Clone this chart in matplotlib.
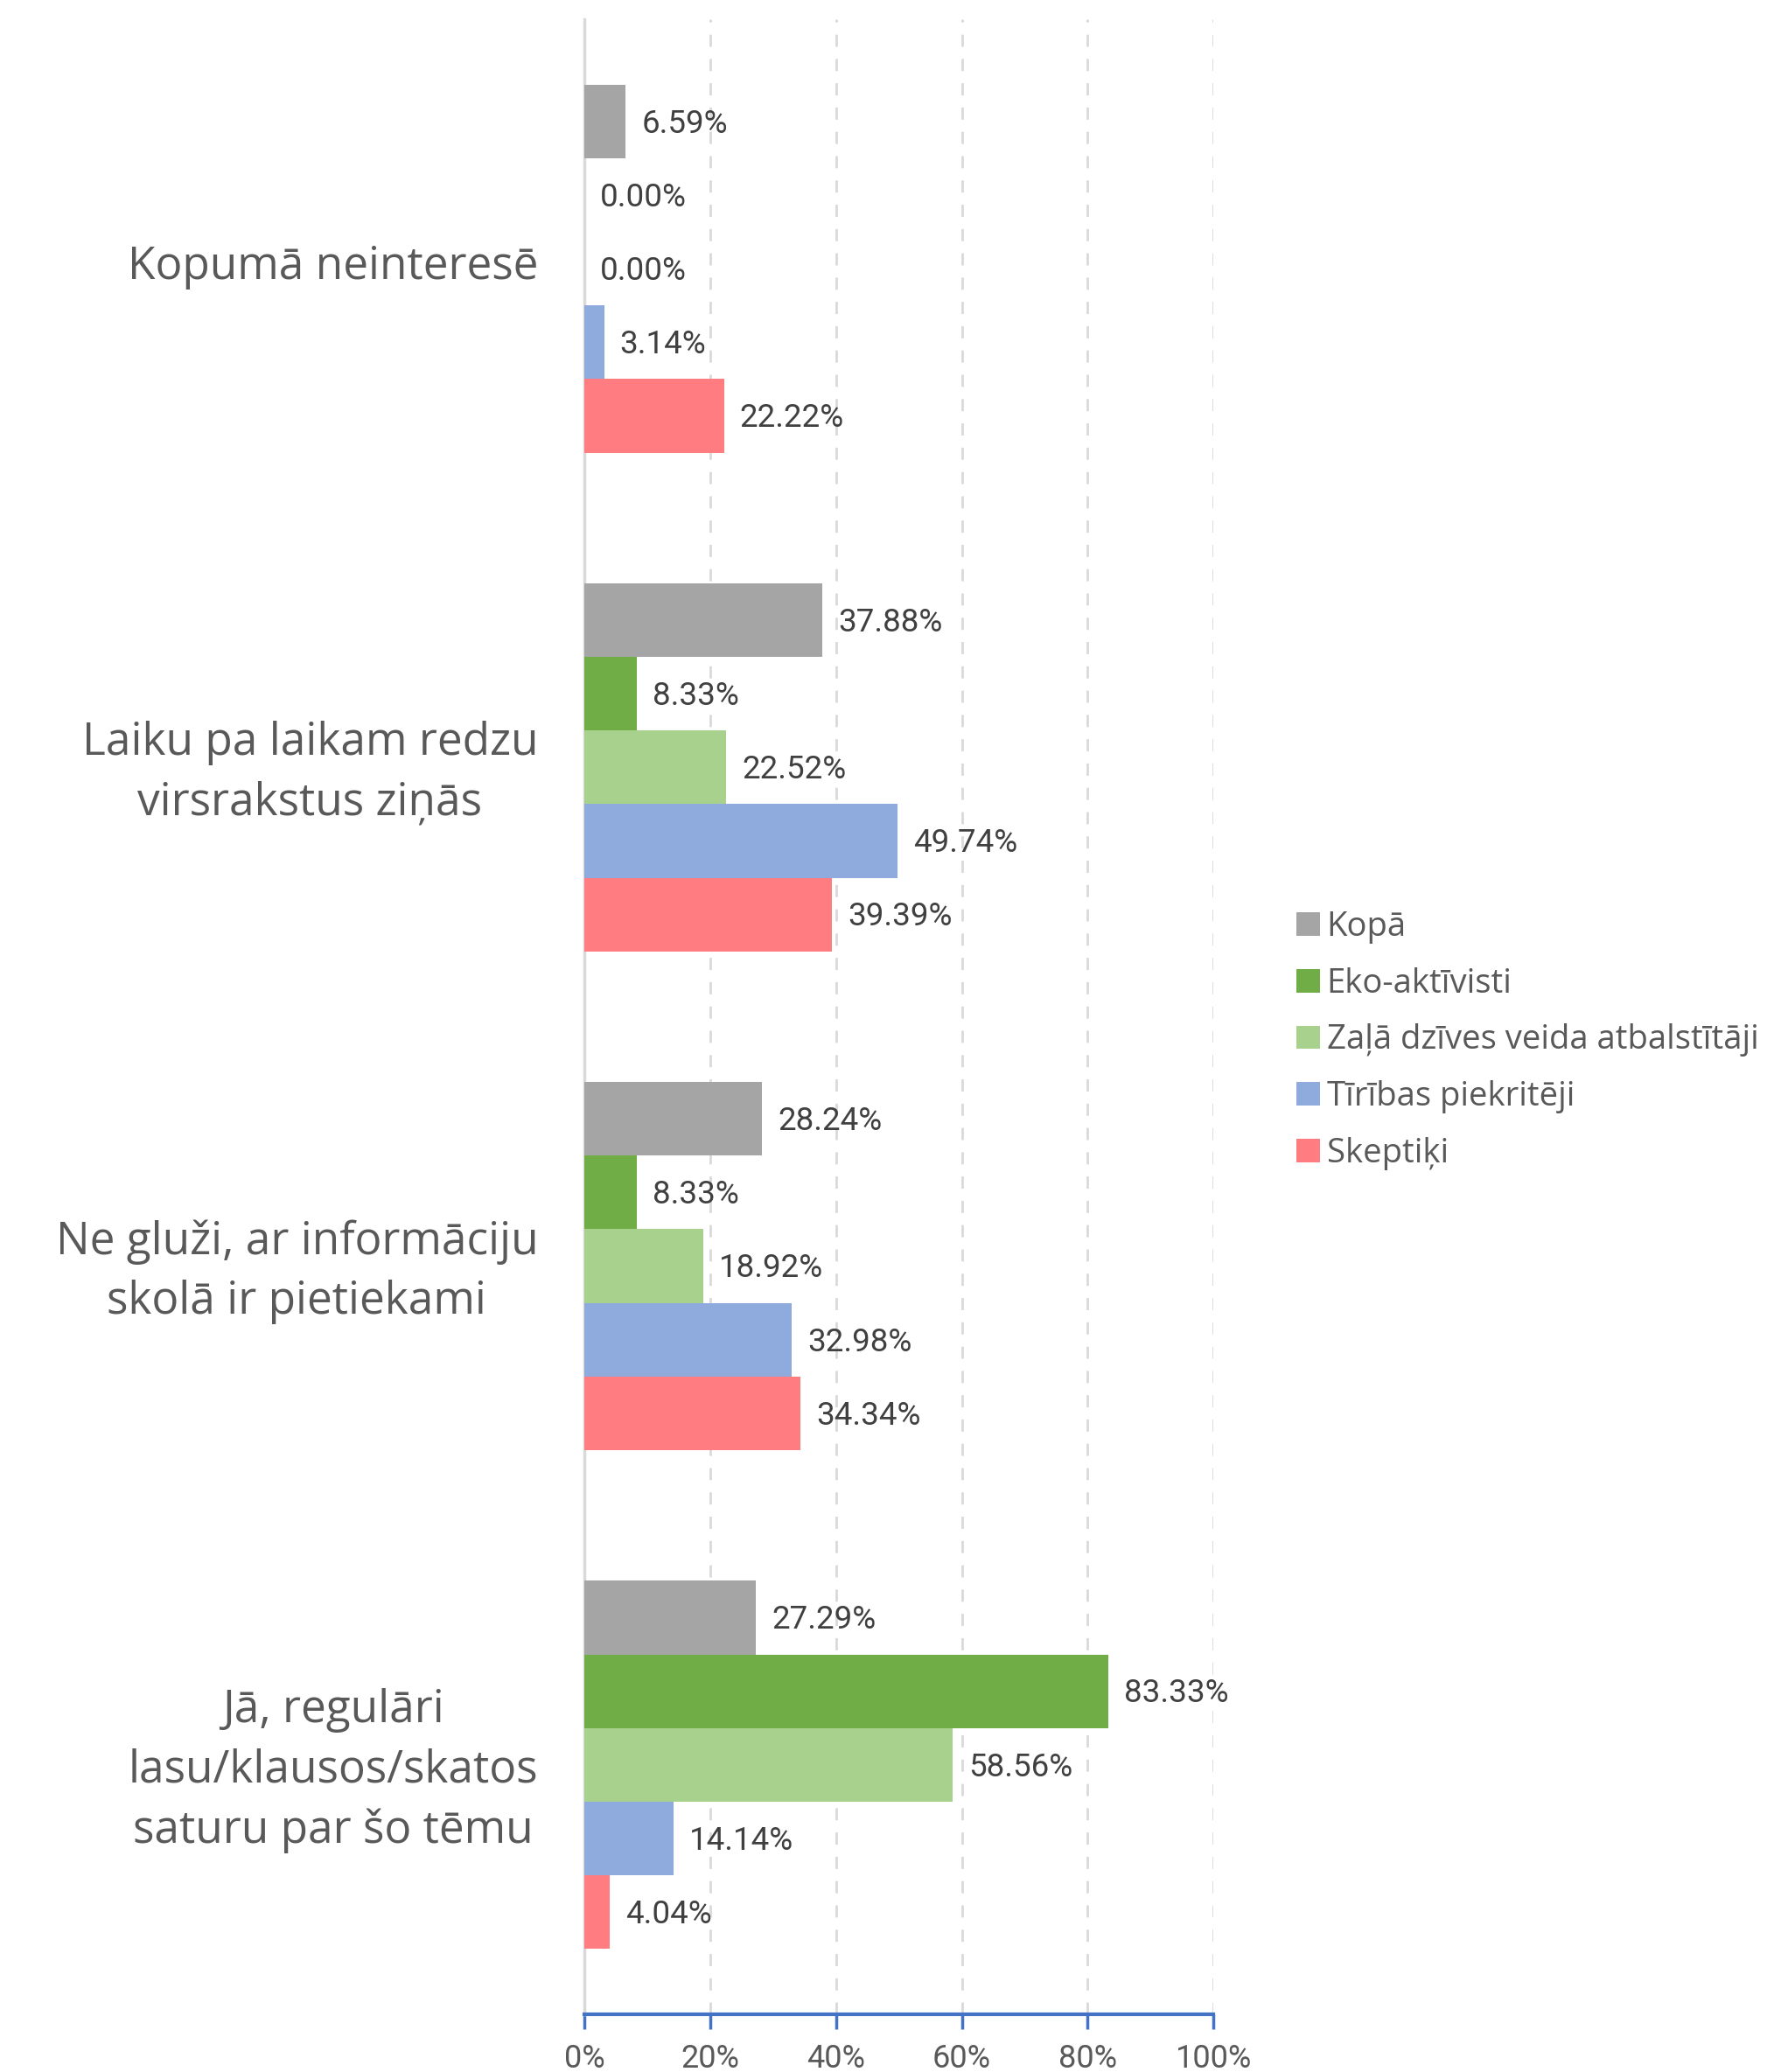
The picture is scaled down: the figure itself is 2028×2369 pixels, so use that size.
from matplotlib import pyplot as plt
import matplotlib.transforms as mtransforms
import numpy as np

categories = ['Jā, regulāri\nlasu/klausos/skatos\nsaturu par šo tēmu',
              'Ne gluži, ar informāciju\nskolā ir pietiekami',
              'Laiku pa laikam redzu\nvirsrakstus ziņās',
              'Kopumā neinteresē']

series = ['Kopā', 'Eko-aktīvisti', 'Zaļā dzīves veida atbalstītāji',
          'Tīrības piekritēji', 'Skeptiķi']

kopa = [27.29, 28.24, 37.88, 6.59]
eko = [83.33, 8.33, 8.33, 0.00]
zala = [58.56, 18.92, 22.52, 0.00]
tiribas = [14.14, 32.98, 49.74, 3.14]
skeptiki = [4.04, 34.34, 39.39, 22.22]

colors = ['#A5A5A5', '#70AD47', '#A9D18E', '#8FAADC', '#FF7C80']

plt.rcParams['font.family'] = ['Open Sans', 'DejaVu Sans']

fig = plt.figure(figsize=(20.28, 23.69), dpi=100)
ax = fig.add_axes([0.3294, 0.0279, 0.3546, 0.9628])

y = np.arange(len(categories))
h = 0.1476
handles = []
for i, (name, vals, c) in enumerate(zip(series, [kopa, eko, zala, tiribas, skeptiki], colors)):
    pos = y + (2 - i) * h
    bars = ax.barh(pos, vals, height=h, color=c, label=name, zorder=3)
    handles.append(bars)
    for p, v in zip(pos, vals):
        ax.annotate(f'{v:.2f}%', (v, p), xytext=(13, -2), textcoords='offset points',
                    va='center', ha='left', fontsize=26.5, color='#404040',
                    family=['Roboto', 'DejaVu Sans'])

ax.set_xlim(0, 100)
ax.set_ylim(-0.5, 3.5)
ax.set_xticks(range(0, 101, 20))
ax.set_xticklabels([f'{t}%' for t in range(0, 101, 20)], fontsize=26, color='#595959',
                   family=['Roboto', 'DejaVu Sans'])
ax.set_yticks(y)
ax.set_yticklabels(categories, fontsize=37, color='#595959', multialignment='center',
                   linespacing=1.45)
ax.tick_params(axis='y', length=0, pad=38)
ax.tick_params(axis='x', length=12, width=2.5, color='#4472C4', direction='out', pad=12)

# nudge category labels up a little
shift = mtransforms.ScaledTranslation(0, 8 / 100, fig.dpi_scale_trans)
for lbl in ax.get_yticklabels():
    lbl.set_transform(lbl.get_transform() + shift)

ax.grid(axis='x', color='#D9D9D9', linestyle=(0, (5, 5)), linewidth=2, zorder=0)
for s in ['top', 'right']:
    ax.spines[s].set_visible(False)
ax.spines['left'].set_color('#D9D9D9')
ax.spines['left'].set_linewidth(2.5)
ax.spines['bottom'].set_color('#4472C4')
ax.spines['bottom'].set_linewidth(3)

fig.legend(handles=handles, labels=series, loc='center left', bbox_to_anchor=(0.714, 0.498),
           frameon=False, fontsize=27.5, labelcolor='#595959', handlelength=0.7,
           handleheight=0.7, handletextpad=0.2, labelspacing=0.7)

fig.savefig('out.png', dpi=100)
